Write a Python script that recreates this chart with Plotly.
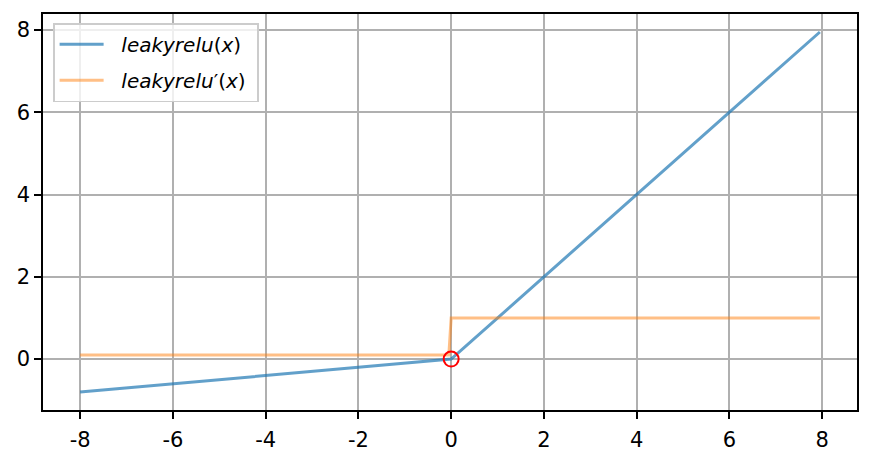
import plotly.graph_objects as go

# Data (straight-line segments)
x_f = [-8.0, 0.0, 7.95]
y_f = [-0.8, 0.0, 7.95]
x_d = [-8.0, -0.05, 0.0, 7.95]
y_d = [0.1, 0.1, 1.0, 1.0]
marker_x = [0.0]
marker_y = [0.0]

x_ticks = [-8, -6, -4, -2, 0, 2, 4, 6, 8]
x_ticktext = ["-8", "-6", "-4", "-2", "0", "2", "4", "6", "8"]
y_ticks = [0, 2, 4, 6, 8]
y_ticktext = ["0", "2", "4", "6", "8"]

fig = go.Figure()
fig.add_trace(go.Scatter(
    x=x_f, y=y_f, mode="lines", legendgroup="a",
    line=dict(color="rgba(31,119,180,0.7)", width=3),
    name="\u00a0\u00a0<i>leakyrelu</i>(<i>x</i>)\u00a0"))
fig.add_trace(go.Scatter(
    x=x_d, y=y_d, mode="lines", legendgroup="b",
    line=dict(color="rgba(255,127,14,0.5)", width=3),
    name="\u00a0\u00a0<i>leakyrelu</i>′(<i>x</i>)\u00a0"))
fig.add_trace(go.Scatter(
    x=marker_x, y=marker_y, mode="markers",
    marker=dict(symbol="circle-open", size=15, color="red", line=dict(width=2, color="red")),
    showlegend=False))

axis_common = dict(
    showgrid=True, gridcolor="#b0b0b0", gridwidth=1.6,
    showline=True, linecolor="black", linewidth=1.6, mirror=True,
    ticks="outside", ticklen=7, tickwidth=1.6, tickcolor="black",
    zeroline=False, automargin=False,
    tickfont=dict(family="DejaVu Sans", size=21, color="black"),
)

fig.update_layout(
    width=871, height=460,
    margin=dict(l=43, r=14, t=14, b=50),
    paper_bgcolor="white", plot_bgcolor="white",
    font=dict(family="DejaVu Sans", size=20, color="black"),
    xaxis=dict(range=[-8.8, 8.75], tickmode="array", tickvals=x_ticks, ticktext=x_ticktext,
               ticklabelstandoff=3, **axis_common),
    yaxis=dict(range=[-1.2375, 8.3875], tickmode="array", tickvals=y_ticks, ticktext=y_ticktext,
               **axis_common),
    legend=dict(
        x=0.0123, y=0.977, xanchor="left", yanchor="top",
        bgcolor="rgba(255,255,255,0.8)", bordercolor="#cccccc", borderwidth=1.6,
        font=dict(family="DejaVu Sans", size=20, color="black"),
        itemwidth=44, traceorder="grouped", tracegroupgap=7,
    ),
    showlegend=True,
)

fig.write_html("out.html", config={"displayModeBar": False},
               post_script="document.body.style.margin='0';document.body.style.overflow='hidden';")
